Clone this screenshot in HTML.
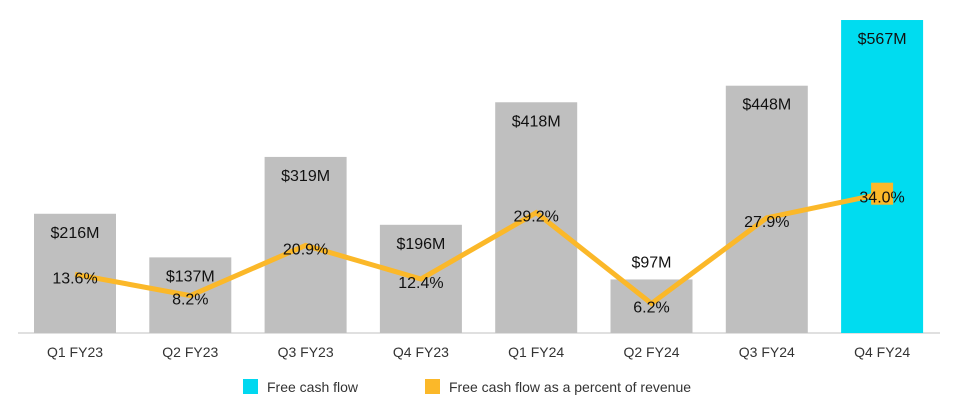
<!DOCTYPE html>
<html><head><meta charset="utf-8"><style>
body{margin:0;background:#fff;font-family:"Liberation Sans",Arial,sans-serif}
svg text{font-family:"Liberation Sans",Arial,sans-serif}
</style></head><body>
<svg id="chart" width="953" height="400" xmlns="http://www.w3.org/2000/svg">
<line x1="18" y1="333" x2="940" y2="333" stroke="#e0e0e0" stroke-width="2"/>
<g id="bars"></g><g id="line"></g><g id="labels"></g>
<g>
<rect x="243" y="379" width="15" height="15" fill="#00d8f0"/>
<text x="267" y="392" font-size="14" fill="#333">Free cash flow</text>
<rect x="425" y="379" width="15" height="15" fill="#fbb829"/>
<text x="449" y="392" font-size="14" fill="#333">Free cash flow as a percent of revenue</text>
</g>
</svg>
<script>
const categories=["Q1 FY23","Q2 FY23","Q3 FY23","Q4 FY23","Q1 FY24","Q2 FY24","Q3 FY24","Q4 FY24"];
const fcf=[216,137,319,196,418,97,448,567];
const pct=[13.6,8.2,20.9,12.4,29.2,6.2,27.9,34.0];
const NS="http://www.w3.org/2000/svg";
const x0=34,step=115.3,bw=82,base=333;
const xc=i=>x0+i*step+bw/2;
const yb=v=>base-v*0.552;
const yp=v=>328-v*3.95;
function mk(t,a,p){const e=document.createElementNS(NS,t);for(const k in a)e.setAttribute(k,a[k]);document.getElementById(p).appendChild(e);return e;}
fcf.forEach((v,i)=>{
 const r=mk('rect',{x:xc(i)-bw/2,y:yb(v),width:bw,height:base-yb(v),fill:i===7?'#00dcf0':'#bfbfbf'},'bars');
 
 
 const inside=(base-yb(v))>70;
 const t=mk('text',{x:xc(i),y:inside?yb(v)+24:yb(v)-12,'text-anchor':'middle','font-size':16,fill:'#111'},'labels');
 t.textContent='$'+v+'M';
 
 
 const c=mk('text',{x:xc(i),y:357,'text-anchor':'middle','font-size':14,fill:'#333'},'labels');
 c.textContent=categories[i];
 
 
});
const pts=pct.map((v,i)=>xc(i)+','+yp(v)).join(' ');
const pl=mk('polyline',{points:pts,fill:'none',stroke:'#fbb829','stroke-width':5,'stroke-linejoin':'miter'},'line');


const m=mk('rect',{x:xc(7)-11,y:yp(pct[7])-11,width:22,height:22,fill:'#fbb829'},'line');


pct.forEach((v,i)=>{
 const t=mk('text',{x:xc(i),y:yp(v)+9,'text-anchor':'middle','font-size':16,fill:'#111'},'labels');
 t.textContent=v.toFixed(1)+'%';
 
 
});
</script>
</body></html>
